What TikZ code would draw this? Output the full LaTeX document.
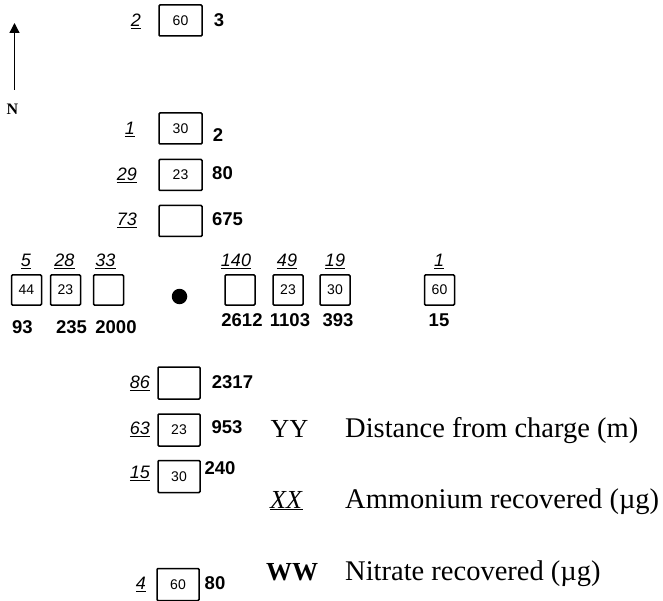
\documentclass[tikz,border=0pt]{standalone}
\usepackage{fontspec}
\setmainfont{Liberation Serif}
\setsansfont{Liberation Sans}
\usetikzlibrary{arrows.meta}
\tikzset{
  num/.style={inner sep=0pt, text height=12.9pt, text depth=0pt},
  amm/.style={num, font=\sffamily\itshape\fontsize{18}{18}\selectfont},
  nit/.style={num, font=\sffamily\bfseries\fontsize{18.5}{18.5}\selectfont},
  tube/.style={draw, line width=1.5pt, rounded corners=1pt, inner sep=0pt,
    font=\sffamily\fontsize{14}{14}\selectfont},
  vtube/.style={tube, minimum width=43pt, minimum height=31pt},
  htube/.style={tube, minimum width=30pt, minimum height=30pt},
  key/.style={anchor=base, inner sep=0pt, font=\fontsize{26}{26}\selectfont},
  desc/.style={anchor=base west, inner sep=0pt, font=\fontsize{28.5}{28.5}\selectfont},
}
\begin{document}
\begin{tikzpicture}[x=1pt,y=-1pt]
\path[use as bounding box] (0,0) rectangle (663,601);
% north arrow
\coordinate (arrowbase) at (14.5,90);
\coordinate (arrowtip) at (14.5,23);
\draw[line width=1.3pt,-{Triangle[length=10pt,width=10pt]}] (arrowbase) -- (arrowtip);
\node[font=\bfseries\fontsize{16}{16}\selectfont, inner sep=0pt] (north) at (12.5,109) {N};
% upper arm
\node[vtube] (u60) at (180.5,20.5) {60};
\node[amm] (u60a) at (136,20) {\underline{2}};
\node[nit] (u60n) at (219,20) {3};
\node[vtube] (u30) at (180.5,128.5) {30};
\node[amm] (u30a) at (130,128) {\underline{1}};
\node[nit] (u30n) at (218,135) {2};
\node[vtube] (u23) at (180.5,175) {23};
\node[amm] (u23a) at (127,174) {\underline{29}};
\node[nit] (u23n) at (222.5,173) {80};
\node[vtube] (u0) at (180.5,221) {};
\node[amm] (u0a) at (127,219) {\underline{73}};
\node[nit] (u0n) at (227.5,219) {675};
% west arm
\node[htube] (w44) at (26.5,290) {44};
\node[amm] (w44a) at (26,260) {\underline{5}};
\node[nit] (w44n) at (22.5,327) {93};
\node[htube] (w23) at (65.5,290) {23};
\node[amm] (w23a) at (64.5,260) {\underline{28}};
\node[nit] (w23n) at (71.5,327) {235};
\node[htube] (w0) at (108.5,290) {};
\node[amm] (w0a) at (105.5,260) {\underline{33}};
\node[nit] (w0n) at (116,327) {2000};
% charge
\node[circle, fill, minimum size=15.5pt, inner sep=0pt] (charge) at (179.5,296.5) {};
% east arm
\node[htube] (e0) at (240,290) {};
\node[amm] (e0a) at (236,260) {\underline{140}};
\node[nit] (e0n) at (242,320) {2612};
\node[htube] (e23) at (288,290) {23};
\node[amm] (e23a) at (287,260) {\underline{49}};
\node[nit] (e23n) at (290,320) {1103};
\node[htube] (e30) at (335,290) {30};
\node[amm] (e30a) at (335,260) {\underline{19}};
\node[nit] (e30n) at (338,320) {393};
\node[htube] (e60) at (439.5,290) {60};
\node[amm] (e60a) at (439,260) {\underline{1}};
\node[nit] (e60n) at (439,320) {15};
% south arm
\node[vtube, minimum width=42pt, minimum height=32pt] (s0) at (179,383) {};
\node[amm] (s0a) at (140,382) {\underline{86}};
\node[nit] (s0n) at (232.5,382) {2317};
\node[vtube, minimum width=42pt, minimum height=32pt] (s23) at (179,430) {23};
\node[amm] (s23a) at (140,428) {\underline{63}};
\node[nit] (s23n) at (227,427) {953};
\node[vtube, minimum width=42pt, minimum height=32pt] (s30) at (179,476.5) {30};
\node[amm] (s30a) at (140,472) {\underline{15}};
\node[nit] (s30n) at (220,468) {240};
\node[vtube, minimum width=42pt, minimum height=32pt] (s60) at (178,584.5) {60};
\node[amm] (s60a) at (141,583) {\underline{4}};
\node[nit] (s60n) at (215,583) {80};
% legend
\node[key] (kyy) at (289.5,437) {YY};
\node[desc] (dyy) at (345,437) {Distance from charge (m)};
\node[key] (kxx) at (286.5,508) {\underline{\textit{XX}}};
\node[desc] (dxx) at (345,508) {Ammonium recovered (µg)};
\node[key, font=\bfseries\fontsize{26}{26}\selectfont] (kww) at (292,580) {WW};
\node[desc] (dww) at (345,580) {Nitrate recovered (µg)};
\end{tikzpicture}
\end{document}
